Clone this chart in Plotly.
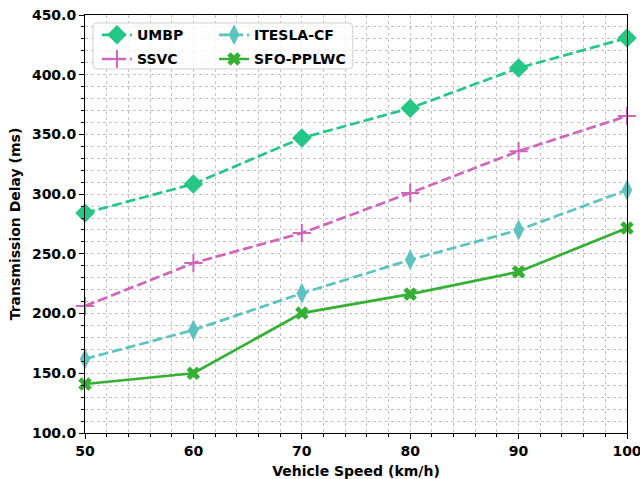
import plotly.graph_objects as go

speeds = [50, 60, 70, 80, 90, 100]
umbp = [284.2, 308.5, 347.0, 372.0, 405.6, 430.7]
ssvc = [206.3, 242.3, 267.4, 301.0, 336.0, 365.4]
itesla = [162.0, 186.2, 217.0, 245.0, 270.0, 303.4]
sfo = [141.0, 150.0, 200.4, 216.3, 235.0, 271.6]

series = [
    ("UMBP", umbp, "#24c785", "10px,4px", "diamond", 15, "legend"),
    ("SSVC", ssvc, "#d065b9", "10px,4px", "cross-thin", 13, "legend"),
    ("ITESLA-CF", itesla, "#5cc3bf", "10px,4px", "diamond-tall", 15, "legend2"),
    ("SFO-PPLWC", sfo, "#35b034", "solid", "x", 12, "legend2"),
]

fig = go.Figure()
for name, ys, color, dash, sym, size, lg in series:
    fig.add_trace(go.Scatter(
        x=speeds, y=ys, name=name, mode="lines+markers",
        line=dict(color=color, width=2.7, dash=dash),
        marker=dict(symbol=sym, size=size, color=color,
                    line=dict(color=color, width=2 if sym == "cross-thin" else 0)),
        legend=lg, legendgroup=name, cliponaxis=False,
    ))

bold = dict(family="DejaVu Sans", size=14, color="black", weight="bold")

fig.update_layout(
    width=640, height=479,
    margin=dict(l=85, r=13, t=15, b=46, autoexpand=False),
    plot_bgcolor="white", paper_bgcolor="white",
    font=dict(family="DejaVu Sans", size=14, color="black"),
    showlegend=True,
    legend=dict(x=0.022, y=0.99, xanchor="left", yanchor="top",
                bgcolor="rgba(0,0,0,0)", borderwidth=0, font=bold,
                itemwidth=30, tracegroupgap=3),
    legend2=dict(x=0.238, y=0.99, xanchor="left", yanchor="top",
                 bgcolor="rgba(0,0,0,0)", borderwidth=0, font=bold,
                 itemwidth=30, tracegroupgap=3),
)

grid = "#c4c4c4"
fig.update_xaxes(
    range=[50, 100], tickvals=[50, 60, 70, 80, 90, 100],
    automargin=False, ticklabeloverflow="allow",
    showline=True, linecolor="black", linewidth=1, mirror=True,
    ticks="outside", ticklen=5, tickcolor="black",
    tickfont=bold,
    title=dict(text="Vehicle Speed (km/h)", standoff=8, font=bold),
    showgrid=True, gridcolor=grid, griddash="dot", gridwidth=1,
    minor=dict(dtick=2, ticks="outside", ticklen=3, tickcolor="black",
               showgrid=True, gridcolor=grid, griddash="dot", gridwidth=1),
    zeroline=False,
)
fig.update_yaxes(
    range=[100, 450], tickvals=[100, 150, 200, 250, 300, 350, 400, 450],
    tickformat=".1f", automargin=False,
    showline=True, linecolor="black", linewidth=1, mirror=True,
    ticks="outside", ticklen=5, tickcolor="black",
    tickfont=bold,
    title=dict(text="Transmission Delay (ms)", standoff=8, font=bold),
    showgrid=True, gridcolor=grid, griddash="dot", gridwidth=1,
    minor=dict(dtick=10, ticks="outside", ticklen=3, tickcolor="black",
               showgrid=True, gridcolor=grid, griddash="dot", gridwidth=1),
    zeroline=False,
)

# legend frame (rounded)
x0, x1 = 0.0148, 0.494
y0, y1 = 0.871, 0.981
rx, ry = 4 / 542, 4 / 418
path = (f"M {x0+rx},{y0} L {x1-rx},{y0} Q {x1},{y0} {x1},{y0+ry} "
        f"L {x1},{y1-ry} Q {x1},{y1} {x1-rx},{y1} L {x0+rx},{y1} "
        f"Q {x0},{y1} {x0},{y1-ry} L {x0},{y0+ry} Q {x0},{y0} {x0+rx},{y0} Z")
fig.add_shape(type="path", path=path, xref="paper", yref="paper",
              fillcolor="rgba(255,255,255,0.8)", line=dict(color="#d0d0d0", width=1),
              layer="above")

fig.write_html("out.html")
